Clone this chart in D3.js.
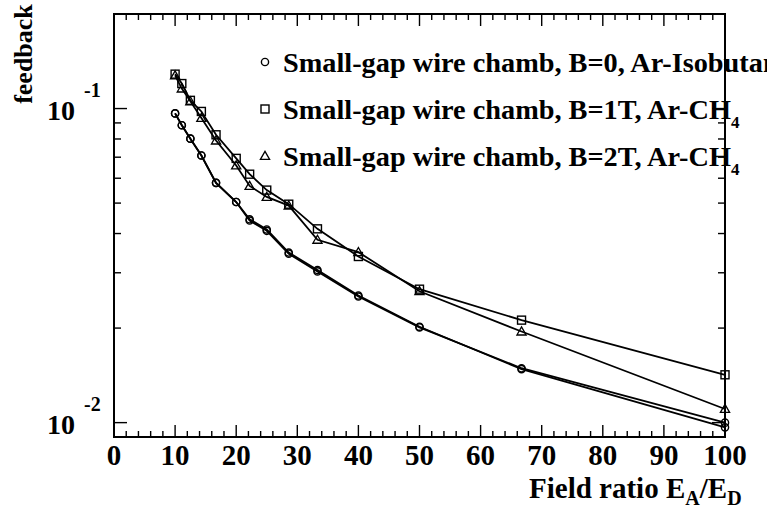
<!DOCTYPE html>
<html>
<head>
<meta charset="utf-8">
<script src="https://cdn.jsdelivr.net/npm/d3@7"></script>
<style>
    body { margin: 0; background: #fff; }
    svg text { font-family: "Liberation Serif", "Times New Roman", serif; font-weight: bold; fill: #000; }
</style>
</head>
<body>
<div id="chart"></div>
<script>
// field ratio E_A/E_D at which feedback was measured
const fieldRatio = [10, 11.1, 12.5, 14.3, 16.7, 20, 22.2, 25, 28.6, 33.3, 40, 50, 66.7, 100];

// B=0, Ar-Isobutane (two runs drawn on top of each other)
const isoB0 = [0.0965, 0.0885, 0.0802, 0.0709, 0.0580, 0.0504, 0.0444, 0.0412, 0.0348, 0.0306, 0.0254, 0.0202, 0.0148, 0.00966];
const isoB0Run2 = [0.0965, 0.0885, 0.0802, 0.0709, 0.0580, 0.0504, 0.0440, 0.0408, 0.0345, 0.0303, 0.0252, 0.0201, 0.0149, 0.0100];
// B=1T, Ar-CH4
const ch4B1 = [0.1287, 0.1201, 0.1062, 0.0979, 0.0825, 0.0694, 0.0618, 0.0550, 0.0496, 0.0414, 0.0338, 0.0266, 0.0212, 0.0142];
// B=2T, Ar-CH4
const ch4B2 = [0.1275, 0.1158, 0.1054, 0.0933, 0.0791, 0.0659, 0.0567, 0.0523, 0.0491, 0.0382, 0.0349, 0.0262, 0.0195, 0.01105];

const xTicks = [0, 10, 20, 30, 40, 50, 60, 70, 80, 90, 100];
const yDecades = [0.1, 0.01];
const yExponents = ["-1", "-2"];

const legendNames = ["Small-gap wire chamb, B=0, Ar-Isobutane",
                     "Small-gap wire chamb, B=1T, Ar-CH",
                     "Small-gap wire chamb, B=2T, Ar-CH"];
const legendSubs = ["", "4", "4"];

let width = 767, height = 510;
let margin = {top: 14, right: 42, bottom: 73, left: 114};

let svg = d3.select("#chart").append("svg")
    .attr("width", width)
    .attr("height", height);

let x = d3.scaleLinear()
    .domain([0, 100])
    .range([margin.left, width - margin.right]);

let y = d3.scaleLog()
    .domain([0.009, 0.2])
    .range([height - margin.bottom, margin.top]);

let x0 = x.range()[0], x1 = x.range()[1];
let yb = y.range()[0], yt = y.range()[1];

// minor + major ticks on all four sides
let xMinor = d3.range(0, 101, 2);
xMinor.forEach(function (v) {
    let len = (v % 10 === 0) ? 12 : 6;
    svg.append("line").attr("x1", x(v)).attr("x2", x(v)).attr("y1", yb).attr("y2", yb - len)
        .attr("stroke", "#000").attr("stroke-width", 1.4);
    svg.append("line").attr("x1", x(v)).attr("x2", x(v)).attr("y1", yt).attr("y2", yt + len)
        .attr("stroke", "#000").attr("stroke-width", 1.4);
});

let yMinor = [];
[0.001, 0.01, 0.1].forEach(function (d) {
    for (let k = 1; k < 10; k++) {
        let v = d * k;
        if (v >= 0.009 && v <= 0.2) yMinor.push(v);
    }
});
yMinor.forEach(function (v) {
    let major = yDecades.some(d => Math.abs(d - v) < 1e-9);
    let len = major ? 13 : 7;
    svg.append("line").attr("x1", x0).attr("x2", x0 + len).attr("y1", y(v)).attr("y2", y(v))
        .attr("stroke", "#000").attr("stroke-width", 1.4);
    svg.append("line").attr("x1", x1).attr("x2", x1 - len).attr("y1", y(v)).attr("y2", y(v))
        .attr("stroke", "#000").attr("stroke-width", 1.4);
});

// frame
svg.append("rect")
    .attr("x", x0).attr("y", yt)
    .attr("width", x1 - x0).attr("height", yb - yt)
    .attr("fill", "none").attr("stroke", "#000").attr("stroke-width", 2);

// x tick labels
svg.selectAll(".xlab").data(xTicks).enter().append("text")
    .attr("class", "xlab")
    .attr("x", d => x(d))
    .attr("y", yb + 28)
    .attr("text-anchor", "middle")
    .attr("font-size", 29)
    .text(d => d);

// y tick labels 10^-n
yDecades.forEach(function (d, i) {
    svg.append("text")
        .attr("x", 75).attr("y", y(d) + 11)
        .attr("text-anchor", "end")
        .attr("font-size", 28)
        .text("10");
    svg.append("text")
        .attr("x", 84).attr("y", y(d) - 12)
        .attr("font-size", 20)
        .text(yExponents[i]);
});

// axis titles
svg.append("text")
    .attr("transform", "translate(32,54) rotate(-90)")
    .attr("text-anchor", "middle")
    .attr("font-size", 26)
    .text("feedback");

let xt = svg.append("text")
    .attr("x", 529).attr("y", 498)
    .attr("font-size", 29);
xt.append("tspan").text("Field ratio E");
xt.append("tspan").attr("font-size", 20).attr("dy", 7).text("A");
xt.append("tspan").attr("dy", -7).text("/E");
xt.append("tspan").attr("font-size", 20).attr("dy", 7).text("D");

// data lines
let line = d3.line()
    .x(d => x(d[0]))
    .y(d => y(d[1]));

let series = [
    {values: isoB0, marker: "circle"},
    {values: isoB0Run2, marker: "circle"},
    {values: ch4B1, marker: "square"},
    {values: ch4B2, marker: "triangle"}
];

function drawMarker(g, type, cx, cy) {
    if (type === "circle") {
        g.append("circle").attr("cx", cx).attr("cy", cy).attr("r", 3.6)
            .attr("fill", "none").attr("stroke", "#000").attr("stroke-width", 1.4);
    } else if (type === "square") {
        g.append("rect").attr("x", cx - 4).attr("y", cy - 4).attr("width", 8).attr("height", 8)
            .attr("fill", "none").attr("stroke", "#000").attr("stroke-width", 1.4);
    } else {
        let s = 4.6;
        g.append("path")
            .attr("d", "M" + cx + "," + (cy - s) + "L" + (cx + s) + "," + (cy + s * 0.75) + "L" + (cx - s) + "," + (cy + s * 0.75) + "Z")
            .attr("fill", "none").attr("stroke", "#000").attr("stroke-width", 1.3);
    }
}

series.forEach(function (s) {
    let pts = fieldRatio.map((f, i) => [f, s.values[i]]);
    svg.append("path")
        .datum(pts)
        .attr("d", line)
        .attr("fill", "none")
        .attr("stroke", "#000")
        .attr("stroke-width", 1.8);
    let g = svg.append("g");
    pts.forEach(p => drawMarker(g, s.marker, x(p[0]), y(p[1])));
});

// legend (first entry runs past the page edge, as in the original)
let legendMarkers = ["circle", "square", "triangle"];
legendNames.forEach(function (name, i) {
    let ly = 62 + i * 47;
    let g = svg.append("g");
    drawMarker(g, legendMarkers[i], 265, ly);
    let t = svg.append("text")
        .attr("x", 283).attr("y", ly + 10)
        .attr("font-size", 28.3);
    t.append("tspan").text(name);
    if (legendSubs[i]) {
        t.append("tspan").attr("font-size", 17).attr("dy", 9).text(legendSubs[i]);
    }
});
</script>
</body>
</html>
